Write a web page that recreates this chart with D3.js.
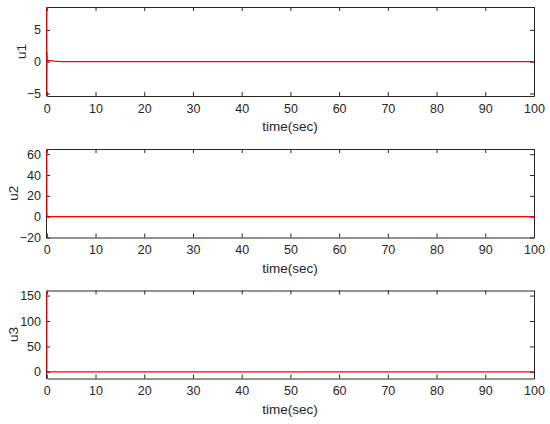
<!DOCTYPE html>
<html>
<head>
<meta charset="utf-8">
<script src="https://cdn.jsdelivr.net/npm/d3@7"></script>
<style>
  body { margin: 0; background: #fff; }
  svg { display: block; font-family: "Liberation Sans", Arial, sans-serif; }
</style>
</head>
<body>
<script>
// sample times (sec) and control signals
const time = [0, 0.02, 0.05, 0.1, 0.2, 0.4, 0.8, 1.5, 3, 100];
const u1 = [8.6, -5.3, 1.5, 0.4, 0.1, 0.2, 0.15, 0.08, 0, 0];
const u2 = [65, 4, 0.5, 0.1, 0, 0, 0, 0, 0, 0];
const u3 = [160, 3, 0.5, 0, 0, 0, 0, 0, 0, 0];
const xTicks = d3.range(0, 101, 10);

const panels = [
  {name: "u1", values: u1, domain: [-5.4, 8.6], ticks: [-5, 0, 5], top: 7, bottom: 96, labelX: 26},
  {name: "u2", values: u2, domain: [-20, 65], ticks: [-20, 0, 20, 40, 60], top: 149, bottom: 237.5, labelX: 18},
  {name: "u3", values: u3, domain: [-13, 160], ticks: [0, 50, 100, 150], top: 290.5, bottom: 378.5, labelX: 18}
];

const width = 550, height = 424;
const left = 46, right = 534;

const svg = d3.select("body").append("svg")
    .attr("width", width)
    .attr("height", height);

const x = d3.scaleLinear().domain([0, 100]).range([left + 0.8, right]);

panels.forEach(function (p) {
    const y = d3.scaleLinear().domain(p.domain).range([p.bottom, p.top]);
    const g = svg.append("g");

    // axes, ticks pointing inward, box all around
    const axisStyle = function (sel) {
        sel.select(".domain").attr("stroke", "#262626");
        sel.selectAll(".tick line").attr("stroke", "#262626");
        sel.selectAll(".tick text").attr("fill", "#262626");
    };

    g.append("g")
        .attr("transform", "translate(0," + p.bottom + ")")
        .call(d3.axisBottom(x).tickValues(xTicks).tickSizeInner(-4).tickSizeOuter(0).tickPadding(8))
        .call(axisStyle);

    g.append("g")
        .attr("transform", "translate(0," + p.top + ")")
        .call(d3.axisTop(x).tickValues(xTicks).tickSizeInner(-4).tickSizeOuter(0).tickFormat(""))
        .call(axisStyle);

    g.append("g")
        .attr("transform", "translate(" + left + ",0)")
        .call(d3.axisLeft(y).tickValues(p.ticks).tickSizeInner(-4).tickSizeOuter(0).tickPadding(5))
        .call(axisStyle);

    g.append("g")
        .attr("transform", "translate(" + right + ",0)")
        .call(d3.axisRight(y).tickValues(p.ticks).tickSizeInner(-4).tickSizeOuter(0).tickFormat(""))
        .call(axisStyle);

    g.selectAll(".tick text").attr("font-size", 12.5).attr("font-family", null);

    // red signal on top of the axes, clipped to the box
    const clipId = "clip-" + p.name;
    g.append("clipPath").attr("id", clipId)
      .append("rect")
        .attr("x", left).attr("y", p.top)
        .attr("width", right - left).attr("height", p.bottom - p.top);

    const line = d3.line()
        .x((d, i) => x(time[i]))
        .y(d => y(d));

    g.append("path")
        .datum(p.values)
        .attr("clip-path", "url(#" + clipId + ")")
        .attr("fill", "none")
        .attr("stroke", "#ff0000")
        .attr("stroke-width", 1.2)
        .attr("d", line);

    // labels
    g.append("text")
        .attr("x", (left + right) / 2)
        .attr("y", p.bottom + 35)
        .attr("text-anchor", "middle")
        .attr("font-size", 13.5)
        .attr("fill", "#262626")
        .text("time(sec)");

    g.append("text")
        .attr("transform", "translate(" + p.labelX + "," + ((p.top + p.bottom) / 2) + ") rotate(-90)")
        .attr("text-anchor", "middle")
        .attr("font-size", 13.5)
        .attr("fill", "#262626")
        .text(p.name);
});
</script>
</body>
</html>
